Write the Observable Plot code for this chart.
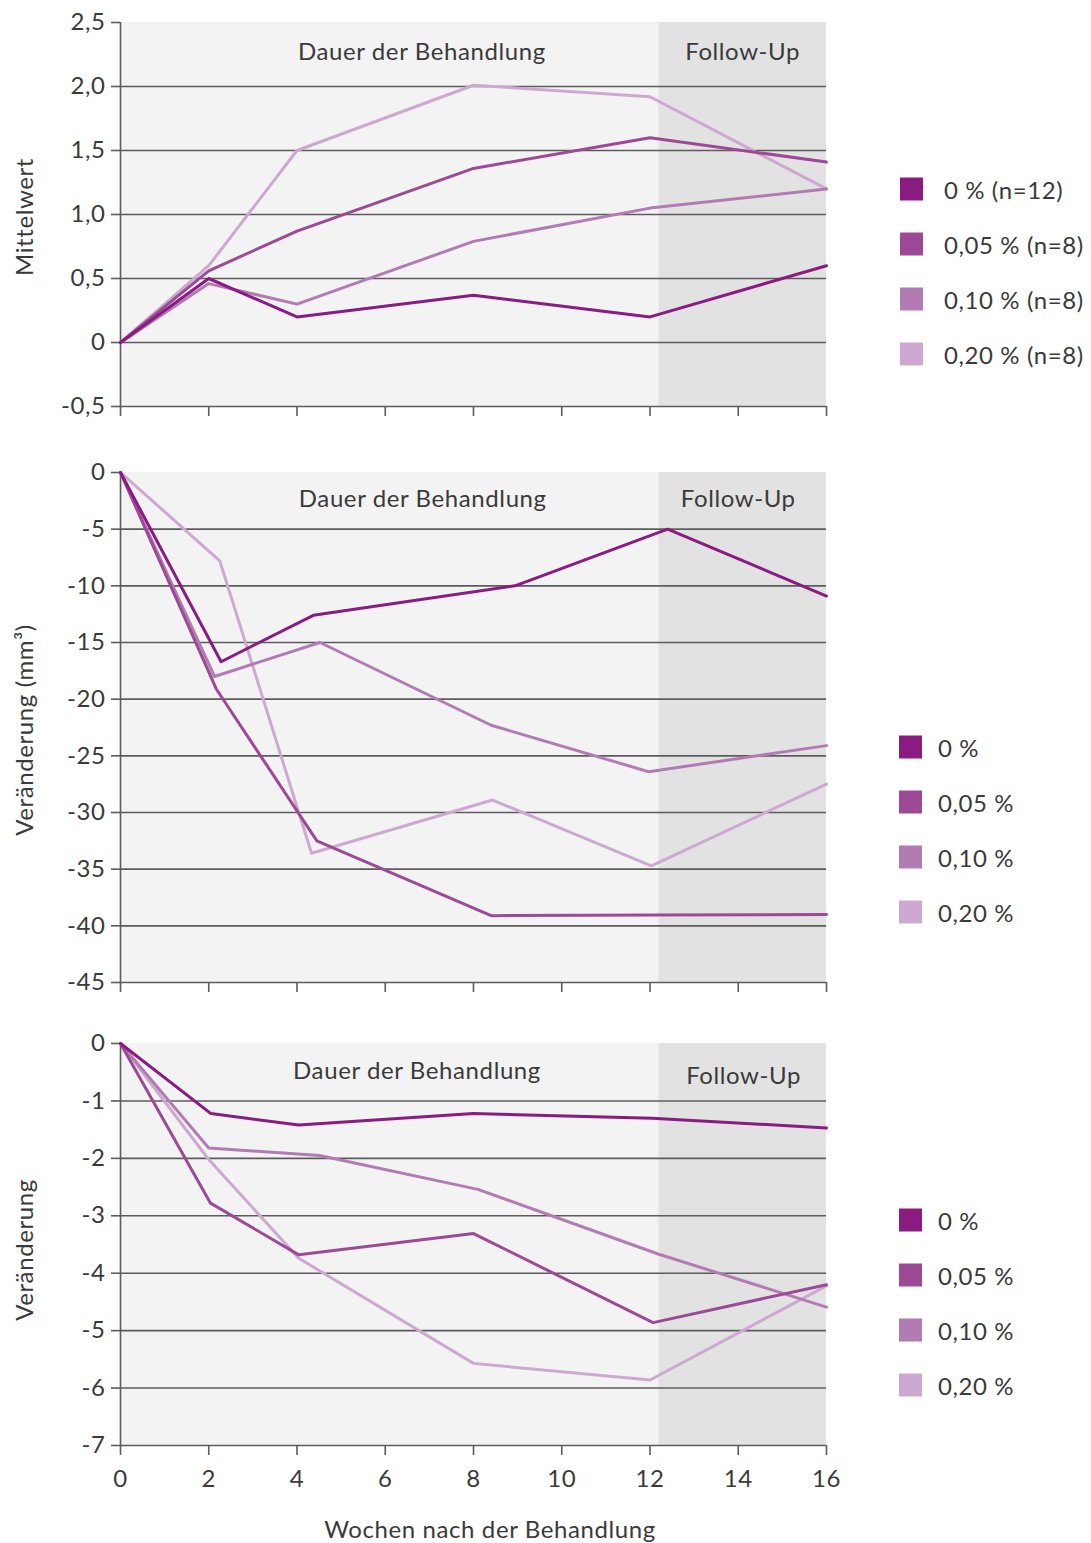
<!DOCTYPE html>
<html><head><meta charset="utf-8">
<script src="https://cdn.jsdelivr.net/npm/d3@7"></script>
<script src="https://cdn.jsdelivr.net/npm/@observablehq/plot@0.6"></script>
<style>
body{margin:0;background:#fff;font-family:Lato,"Open Sans",sans-serif;letter-spacing:0.6px;}
#root{position:relative;width:1091px;height:1543px;overflow:hidden;}
.panel{position:absolute;left:0;}
.ylab{position:absolute;transform:translate(-50%,-50%) rotate(-90deg);white-space:nowrap;font-size:24px;color:#3a3a3a;}
.xlab{position:absolute;transform:translate(-50%,-50%);white-space:nowrap;font-size:24px;color:#3a3a3a;}
.item{position:absolute;display:flex;align-items:center;white-space:nowrap;font-size:24px;color:#3a3a3a;transform:translateY(-50%);}
.sw{width:23px;height:23px;display:inline-block;}
</style>
</head><body><div id="root"></div>
<script>
// ---- data ----
const seriesNames = ["0 %", "0,05 %", "0,10 %", "0,20 %"];
const seriesColors = ["#8a1b81", "#9c4a95", "#b37bb3", "#cda9d1"];
const legendTop = ["0 % (n=12)", "0,05 % (n=8)", "0,10 % (n=8)", "0,20 % (n=8)"];

const phaseNames = ["Dauer der Behandlung", "Follow-Up"];
const phaseStart = [0, 12.2];
const phaseEnd = [12.2, 16];
const phaseFill = ["#f3f3f3", "#e2e2e2"];

const xTicks = [0, 2, 4, 6, 8, 10, 12, 14, 16];

// Panel 1: Mittelwert
const p1Weeks = [0, 2, 4, 8, 12, 16];
const p1_0 = [0, 0.50, 0.20, 0.37, 0.20, 0.60];
const p1_05 = [0, 0.56, 0.87, 1.36, 1.60, 1.41];
const p1_10 = [0, 0.46, 0.30, 0.79, 1.05, 1.20];
const p1_20 = [0, 0.60, 1.50, 2.01, 1.92, 1.20];
const p1Ticks = [2.5, 2.0, 1.5, 1.0, 0.5, 0, -0.5];
const p1Grid = [2.0, 1.5, 1.0, 0.5, 0, -0.5];
const p1LabelX = [6.83, 14.1];
const p1LabelY = [2.27, 2.27];

// Panel 2: Veränderung (mm³)
const p2x_0 = [0, 2.28, 4.37, 8.94, 12.4, 16];
const p2y_0 = [0, -16.7, -12.6, -10.0, -5.0, -10.9];
const p2x_05 = [0, 2.17, 4.45, 8.4, 12.2, 16];
const p2y_05 = [0, -19.1, -32.5, -39.1, -39.05, -39.0];
const p2x_10 = [0, 2.13, 4.52, 8.4, 11.97, 16];
const p2y_10 = [0, -18.0, -15.0, -22.3, -26.4, -24.1];
const p2x_20 = [0, 2.25, 4.33, 8.43, 12.03, 16];
const p2y_20 = [0, -7.8, -33.6, -28.9, -34.7, -27.5];
const p2Ticks = [0, -5, -10, -15, -20, -25, -30, -35, -40, -45];
const p2Grid = [-5, -10, -15, -20, -25, -30, -35, -40, -45];
const p2LabelX = [6.85, 14.0];
const p2LabelY = [-2.4, -2.4];

// Panel 3: Veränderung
const p3x_0 = [0, 2.05, 4.04, 8, 12.05, 16];
const p3y_0 = [0, -1.22, -1.42, -1.22, -1.30, -1.47];
const p3x_05 = [0, 2.04, 4.04, 8, 12.07, 16];
const p3y_05 = [0, -2.78, -3.68, -3.31, -4.86, -4.20];
const p3x_10 = [0, 2.0, 4.51, 8.1, 12.2, 16];
const p3y_10 = [0, -1.82, -1.95, -2.54, -3.67, -4.59];
const p3x_20 = [0, 2.0, 4.04, 8, 12, 16];
const p3y_20 = [0, -2.02, -3.74, -5.57, -5.86, -4.22];
const p3Ticks = [0, -1, -2, -3, -4, -5, -6, -7];
const p3Grid = [-1, -2, -3, -4, -5, -6, -7];
const p3LabelX = [6.72, 14.12];
const p3LabelY = [-0.49, -0.57];

// ---- build ----
function rows(xs, ys, s) { return xs.map((x, i) => ({w: x, v: ys[i], s})); }
const phases = phaseNames.map((n, i) => ({name: n, start: phaseStart[i], end: phaseEnd[i], fill: phaseFill[i]}));

const root = document.getElementById("root");
const W = 1091, left = 120, right = 826;

function panel({top, height, mt, mb, yDomain, yTicks, yFmt, grid, data, labelX, labelY, showX}) {
  const labels = phaseNames.map((n, i) => ({text: n, x: labelX[i], y: labelY[i]}));
  const chart = Plot.plot({
    width: W, height, marginLeft: left, marginRight: W - right, marginTop: mt, marginBottom: mb,
    x: {domain: [0, 16]},
    y: {domain: yDomain},
    color: {domain: seriesNames, range: seriesColors},
    style: {fontFamily: "Lato, 'Open Sans', sans-serif", fontSize: "24px", color: "#3a3a3a", background: "transparent", letterSpacing: "0.6px"},
    marks: [
      Plot.rect(phases.slice(0, 1), {x1: "start", x2: "end", y1: yDomain[0], y2: yDomain[1], fill: phaseFill[0]}),
      Plot.rect(phases.slice(1, 2), {x1: "start", x2: "end", y1: yDomain[0], y2: yDomain[1], fill: phaseFill[1]}),
      Plot.ruleY(grid, {stroke: "#5c5c5c", strokeWidth: 1.6}),
      Plot.ruleX([0], {stroke: "#5c5c5c", strokeWidth: 1.6}),
      Plot.axisY(yTicks, {tickFormat: yFmt, tickSize: 9, tickPadding: 6, fontSize: 24, stroke: "#5c5c5c", strokeWidth: 1.6, label: null}),
      Plot.axisX(xTicks, {tickFormat: showX ? (d => String(d)) : (() => ""), tickSize: 10, tickPadding: 14, fontSize: 24, stroke: "#5c5c5c", strokeWidth: 1.6, label: null}),
      Plot.text(labels, {x: "x", y: "y", text: "text", fontSize: 24, fill: "#3a3a3a"}),
      Plot.line(data, {x: "w", y: "v", z: "s", stroke: "s", strokeWidth: 3})
    ]
  });
  chart.classList.add("panel");
  chart.style.top = top + "px";
  root.appendChild(chart);
}

const fmt1 = d => d === 0 ? "0" : d3.format(".1f")(d).replace(".", ",").replace("−", "-");
const fmtInt = d => String(d);

panel({top: 0, height: 440, mt: 22, mb: 34, yDomain: [-0.5, 2.5], yTicks: p1Ticks, yFmt: fmt1, grid: p1Grid,
  data: [...rows(p1Weeks, p1_20, "0,20 %"), ...rows(p1Weeks, p1_10, "0,10 %"), ...rows(p1Weeks, p1_05, "0,05 %"), ...rows(p1Weeks, p1_0, "0 %")],
  labelX: p1LabelX, labelY: p1LabelY, showX: false});

panel({top: 440, height: 580, mt: 32, mb: 38, yDomain: [-45, 0], yTicks: p2Ticks, yFmt: fmtInt, grid: p2Grid,
  data: [...rows(p2x_20, p2y_20, "0,20 %"), ...rows(p2x_10, p2y_10, "0,10 %"), ...rows(p2x_05, p2y_05, "0,05 %"), ...rows(p2x_0, p2y_0, "0 %")],
  labelX: p2LabelX, labelY: p2LabelY, showX: false});

panel({top: 1020, height: 523, mt: 23, mb: 98, yDomain: [-7, 0], yTicks: p3Ticks, yFmt: fmtInt, grid: p3Grid,
  data: [...rows(p3x_20, p3y_20, "0,20 %"), ...rows(p3x_10, p3y_10, "0,10 %"), ...rows(p3x_05, p3y_05, "0,05 %"), ...rows(p3x_0, p3y_0, "0 %")],
  labelX: p3LabelX, labelY: p3LabelY, showX: true});

// axis titles
function addText(cls, txt, x, y) {
  const d = document.createElement("div"); d.className = cls; d.textContent = txt;
  d.style.left = x + "px"; d.style.top = y + "px"; root.appendChild(d);
}
addText("ylab", "Mittelwert", 23, 217);
addText("ylab", "Veränderung (mm³)", 23, 730);
addText("ylab", "Veränderung", 23, 1250);
addText("xlab", "Wochen nach der Behandlung", 490, 1528);

// legends
function legend(labels, swLeft, textLeft, centers) {
  labels.forEach((t, i) => {
    const it = document.createElement("div"); it.className = "item";
    it.style.left = swLeft + "px"; it.style.top = centers[i] + "px";
    const sw = document.createElement("span"); sw.className = "sw"; sw.style.background = seriesColors[i];
    sw.style.marginRight = (textLeft - swLeft - 23) + "px";
    const tx = document.createElement("span"); tx.textContent = t;
    it.appendChild(sw); it.appendChild(tx); root.appendChild(it);
  });
}
legend(legendTop, 900, 944, [189, 244, 299, 354]);
legend(seriesNames, 899, 938, [747, 802, 857, 912]);
legend(seriesNames, 899, 938, [1220, 1275, 1330, 1385]);
</script></body></html>
